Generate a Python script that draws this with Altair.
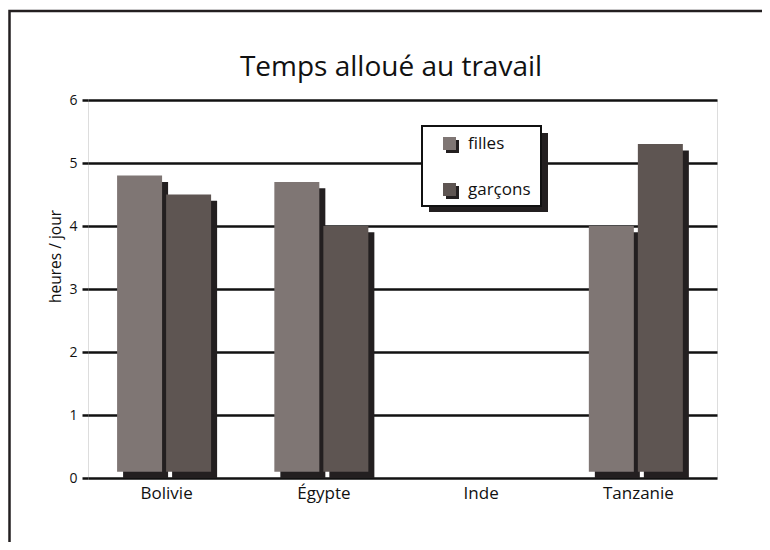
import altair as alt
import pandas as pd

title_text = "Temps alloué au travail"
countries = ["Bolivie", "Égypte", "Inde", "Tanzanie"]
series = ["filles", "garçons"]
filles = [4.8, 4.7, None, 4.0]
garcons = [4.5, 4.0, None, 5.3]

colors = ["#7f7674", "#5e5552"]
shadow = "#231f20"
depth = 0.1  # 3D shadow depth in data units

rows = []
for c, f, g in zip(countries, filles, garcons):
    rows.append({"pays": c, "sexe": "filles", "heures": f})
    rows.append({"pays": c, "sexe": "garçons", "heures": g})
df = pd.DataFrame(rows)

# distinct keys for the shadow layer so its legend is not merged with the main one
series_shadow = [s + " " for s in series]

FONT = "Open Sans"

x_enc = alt.X(
    "pays:N",
    sort=countries,
    scale=alt.Scale(domain=countries, paddingInner=0, paddingOuter=0),
    axis=alt.Axis(title=None, labelAngle=0, ticks=False, domain=False, grid=False,
                  labelFontSize=17, labelPadding=7, labelColor="#111"),
)

y_axis = alt.Axis(title="heures / jour", values=[0, 1, 2, 3, 4, 5, 6], format="d",
                  grid=True, gridColor="#111", gridWidth=2.5,
                  ticks=True, tickSize=6, tickWidth=2.5, tickColor="#111",
                  domain=False, labelFontSize=14, labelPadding=5, labelColor="#111",
                  titleFontSize=15.5, titleFontWeight="normal", titleColor="#111",
                  titleAngle=270, titleAlign="center", titleBaseline="alphabetic",
                  titleX=-28, titleY=156)

base = alt.Chart(df)
one = "datum.pays == 'Bolivie' && datum.sexe == 'filles'"

frame = base.mark_rect(fill=None, stroke=shadow, strokeWidth=2.5).encode(
    x=alt.value(-78.5), x2=alt.value(900), y=alt.value(-89), y2=alt.value(700)
).transform_filter(one)

title_mark = base.mark_text(fontSize=28, font=FONT, color="#111", align="center",
                            baseline="alphabetic").encode(
    x=alt.value(303), y=alt.value(-24), text=alt.value(title_text)
).transform_filter(one)

# legend box shadow and box
box_shadow = base.mark_rect(fill=shadow).encode(
    x=alt.value(341), x2=alt.value(460), y=alt.value(33), y2=alt.value(112)
).transform_filter(one)
box = base.mark_rect(fill="white", stroke="#111", strokeWidth=2).encode(
    x=alt.value(334), x2=alt.value(453), y=alt.value(26), y2=alt.value(106)
).transform_filter(one)

shadow_bars = base.transform_filter(
    "isValid(datum.heures)"
).transform_calculate(
    top="datum.heures - " + str(depth),
    sexe_ombre="datum.sexe + ' '",
).mark_bar().encode(
    x=x_enc,
    xOffset=alt.XOffset(
        "sexe_ombre:N", sort=series_shadow,
        scale=alt.Scale(domain=series_shadow, paddingInner=0.082, paddingOuter=0.645,
                        align=0.555),
    ),
    y=alt.Y("top:Q", scale=alt.Scale(domain=[0, 6], nice=False), axis=y_axis),
    y2=alt.datum(0),
    fill=alt.Fill("sexe_ombre:N",
                  scale=alt.Scale(domain=series_shadow, range=[shadow, shadow]),
                  legend=alt.Legend(orient="none", legendX=356, legendY=38, title=None,
                                    labelExpr="''", zindex=1)),
)

front_bars = base.transform_filter(
    "isValid(datum.heures)"
).transform_calculate(
    b=str(depth)
).mark_bar().encode(
    x=x_enc,
    xOffset=alt.XOffset(
        "sexe:N", sort=series,
        scale=alt.Scale(domain=series, paddingInner=0.082, paddingOuter=0.645, align=0.46),
    ),
    y=alt.Y("heures:Q"),
    y2=alt.Y2("b:Q"),
    color=alt.Color("sexe:N", scale=alt.Scale(domain=series, range=colors),
                    legend=alt.Legend(orient="none", legendX=353, legendY=35, title=None,
                                      zindex=2)),
)

chart = alt.layer(frame, title_mark, box_shadow, box, shadow_bars, front_bars).properties(
    width=629,
    height=378,
    autosize=alt.AutoSizeParams(type="none"),
    padding={"left": 80, "top": 92, "right": 45, "bottom": 64},
).resolve_scale(
    y="shared", xOffset="independent"
).configure_view(
    stroke="#111", strokeWidth=2.5
).configure(
    font=FONT
).configure_legend(
    symbolType="square", symbolSize=169, symbolStrokeWidth=0, padding=0,
    labelFontSize=17, labelOffset=10, rowPadding=28, labelColor="#111",
    fillColor=None, strokeColor=None
)

chart.save("out.html", embed_options={"renderer": "svg", "actions": False})
